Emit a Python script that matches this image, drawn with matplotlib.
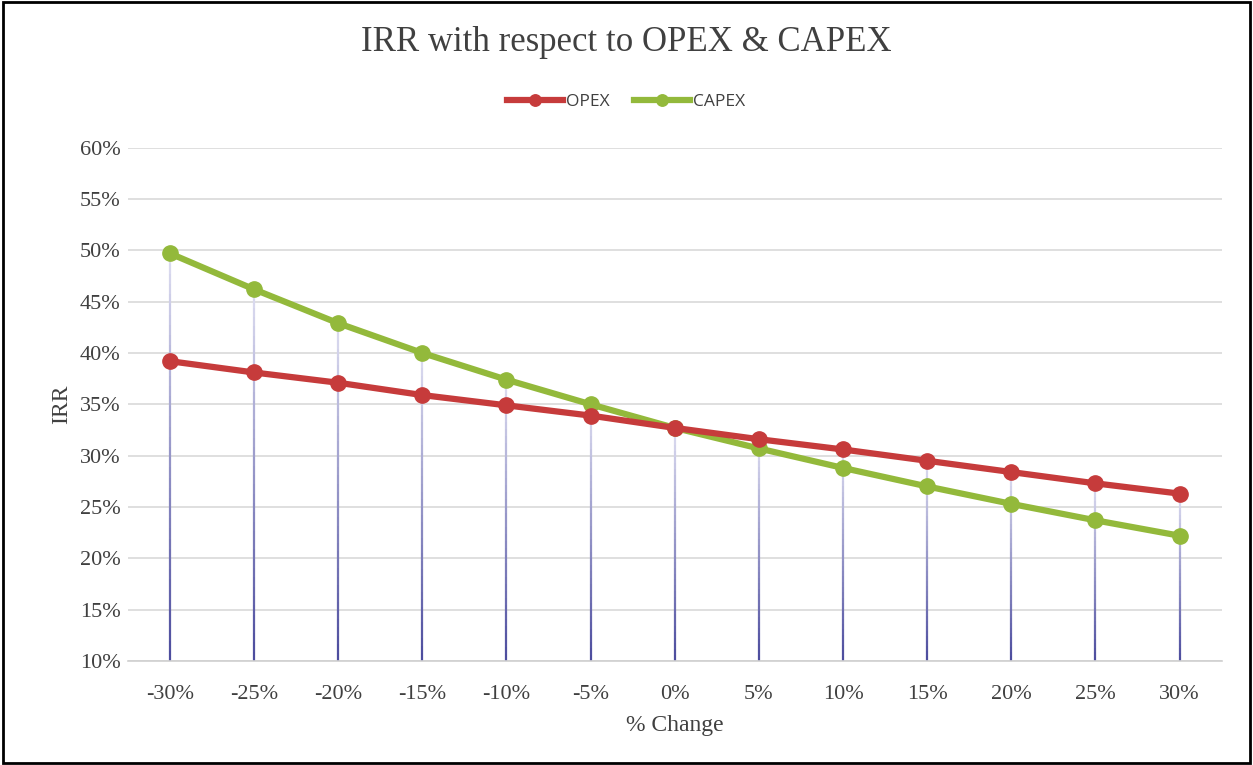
import numpy as np
import matplotlib.pyplot as plt
from matplotlib.collections import LineCollection
from matplotlib.patches import Rectangle

# data
changes = ['-30%', '-25%', '-20%', '-15%', '-10%', '-5%', '0%',
           '5%', '10%', '15%', '20%', '25%', '30%']
opex = [39.2, 38.1, 37.1, 35.9, 34.9, 33.9, 32.7, 31.6, 30.6, 29.5, 28.4, 27.3, 26.3]
capex = [49.7, 46.2, 42.9, 40.0, 37.4, 35.0, 32.7, 30.7, 28.8, 27.0, 25.3, 23.7, 22.2]
yticks = [10, 15, 20, 25, 30, 35, 40, 45, 50, 55, 60]

serif = ['Liberation Serif', 'DejaVu Serif']
sans = ['Open Sans', 'DejaVu Sans']

fig = plt.figure(figsize=(12.53, 7.65), dpi=100)
ax = fig.add_axes([0.102, 0.136, 0.873, 0.671])

x = np.arange(len(changes))
ymin = yticks[0]

# drop lines, fading from dark blue at the bottom to pale at the top
segs, cols = [], []
n = 40
for xi, a, b in zip(x, opex, capex):
    top = max(a, b)
    ys = np.linspace(ymin, top, n + 1)
    for k in range(n):
        segs.append([(xi, ys[k]), (xi, ys[k + 1])])
        t = k / n
        c0 = np.array([0.30, 0.30, 0.62])
        c1 = np.array([0.88, 0.88, 0.95])
        cols.append(tuple(c0 + (c1 - c0) * t))
ax.add_collection(LineCollection(segs, colors=cols, linewidths=1.6, zorder=2))

ax.plot(x, opex, color='#c63b3b', lw=4.5, marker='o', ms=11, label='OPEX', zorder=4)
ax.plot(x, capex, color='#93b93b', lw=4.5, marker='o', ms=11, label='CAPEX', zorder=3)

ax.set_xlim(-0.5, len(changes) - 0.5)
ax.set_ylim(ymin, yticks[-1])
ax.set_yticks(yticks)
ax.set_yticklabels([f'{v}%' for v in yticks], family=serif, fontsize=16, color='#404040')
ax.set_xticks(x)
ax.set_xticklabels(changes, family=serif, fontsize=16, color='#404040')
ax.tick_params(length=0)
ax.tick_params(axis='x', pad=17)
ax.tick_params(axis='y', pad=5)

ax.grid(axis='y', color='#d9d9d9', lw=1.2, zorder=0)
ax.set_axisbelow(True)
for s in ['top', 'right', 'left']:
    ax.spines[s].set_visible(False)
ax.spines['bottom'].set_color('#d0d0d0')
ax.spines['bottom'].set_linewidth(1.2)

ax.set_xlabel('% Change', family=serif, fontsize=17, color='#404040', labelpad=8)
ax.set_ylabel('IRR', family=serif, fontsize=17, color='#404040', labelpad=6)

fig.text(0.5, 0.945, 'IRR with respect to OPEX & CAPEX', ha='center', va='center',
         family=serif, fontsize=25, color='#404040')
leg = fig.legend(loc='center', bbox_to_anchor=(0.5, 0.867), ncol=2, frameon=False,
                 prop={'family': sans, 'size': 12.5}, handlelength=3.2, columnspacing=1.4,
                 handletextpad=0.2, markerscale=0.75)
for t in leg.get_texts():
    t.set_color('#404040')

fig.patches.append(Rectangle((0.002, 0.002), 0.996, 0.996, transform=fig.transFigure,
                             fill=False, edgecolor='black', lw=2))

fig.savefig('out.png', dpi=100)
